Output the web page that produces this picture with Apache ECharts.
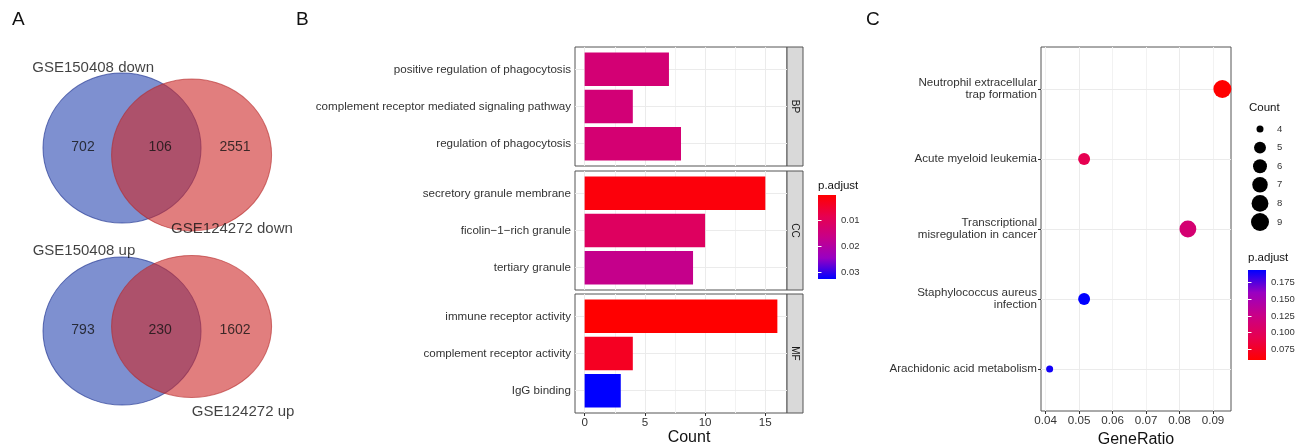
<!DOCTYPE html>
<html>
<head>
<meta charset="utf-8">
<script src="https://cdn.jsdelivr.net/npm/echarts@6/dist/echarts.min.js"></script>
<style>
  html, body { margin: 0; padding: 0; background: #fff; }
  #main { width: 1303px; height: 445px; }
</style>
</head>
<body>
<div id="main"></div>
<script>
// ---------------- data ----------------
// Venn diagrams: [only first set, shared, only second set]
const vennDownSets = ['GSE150408 down', 'GSE124272 down'];
const vennDownCounts = [702, 106, 2551];
const vennUpSets = ['GSE150408 up', 'GSE124272 up'];
const vennUpCounts = [793, 230, 1602];

// GO enrichment, faceted by ontology
const goFacets = ['BP', 'CC', 'MF'];
const goTermsBP = ['positive regulation of phagocytosis', 'complement receptor mediated signaling pathway', 'regulation of phagocytosis'];
const goCountBP = [7, 4, 8];
const goPadjBP = [0.0135, 0.0138, 0.0132];
const goTermsCC = ['secretory granule membrane', 'ficolin\u22121\u2212rich granule', 'tertiary granule'];
const goCountCC = [15, 10, 9];
const goPadjCC = [0.0012, 0.0105, 0.0168];
const goTermsMF = ['immune receptor activity', 'complement receptor activity', 'IgG binding'];
const goCountMF = [16, 4, 3];
const goPadjMF = [0.00003, 0.0035, 0.0326];
const countTicks = [0, 5, 10, 15];
const countMinorTicks = [2.5, 7.5, 12.5];
const goPadjTicks = [0.01, 0.02, 0.03];

// KEGG enrichment
const keggTerms = ['Neutrophil extracellular\ntrap formation', 'Acute myeloid leukemia', 'Transcriptional\nmisregulation in cancer', 'Staphylococcus aureus\ninfection', 'Arachidonic acid metabolism'];
const keggGeneRatio = [0.0928, 0.0515, 0.0825, 0.0515, 0.0412];
const keggCount = [9, 5, 8, 5, 4];
const keggPadj = [0.059, 0.094, 0.113, 0.194, 0.190];
const ratioTicks = [0.04, 0.05, 0.06, 0.07, 0.08, 0.09];
const ratioMinorTicks = [0.045, 0.055, 0.065, 0.075, 0.085];
const sizeLegendCounts = [4, 5, 6, 7, 8, 9];
const keggPadjTicks = [0.075, 0.1, 0.125, 0.15, 0.175];

// ---------------- styling ----------------
const FONT = '"Liberation Sans", Arial, Helvetica, sans-serif';
const TXT = '#333';
const BORDER = '#555';
const GRID_MAJOR = '#ebebeb';
const GRID_MINOR = '#f2f2f2';
const AXIS_FS = 11.6;
const LEG_FS = 9.5;
const RAMP = ['#ff0000', '#e7004f', '#c80088', '#9900c2', '#0000ff']; // low -> high p.adjust
const CIRCLE = 'path://M0,50 A50,50 0 1,1 100,50 A50,50 0 1,1 0,50 Z';

const grids = [], xAxes = [], yAxes = [], series = [], graphics = [];

function addGrid(g, x, ys) {
  grids.push(Object.assign({ outerBoundsMode: 'none', containLabel: false, show: false }, g));
  const gi = grids.length - 1;
  xAxes.push(Object.assign({ gridIndex: gi }, x));
  const xi = xAxes.length - 1;
  const yi = [];
  (Array.isArray(ys) ? ys : [ys]).forEach(y => { yAxes.push(Object.assign({ gridIndex: gi }, y)); yi.push(yAxes.length - 1); });
  return { gi, xi, yi: yi[0], yis: yi };
}
const hiddenUnit = { type: 'value', show: false, min: 0, max: 1, splitLine: { show: false } };

function text(x, y, str, size, opts) {
  graphics.push(Object.assign({
    type: 'text', x, y, silent: true,
    style: Object.assign({ text: str, fontSize: size, fontFamily: FONT, fill: '#111', align: 'left', verticalAlign: 'middle' }, (opts || {}).style || {})
  }, opts && opts.rotation !== undefined ? { rotation: opts.rotation } : {}));
}

function vLines(xi, yi, majors, minors) {
  series.push({
    type: 'line', xAxisIndex: xi, yAxisIndex: yi, data: [], silent: true, z: 1,
    markLine: {
      z: 1, silent: true, symbol: ['none', 'none'], label: { show: false }, animation: false,
      lineStyle: { color: GRID_MAJOR, width: 1, type: 'solid' },
      data: majors.map(v => ({ xAxis: v })).concat(minors.map(v => ({ xAxis: v, lineStyle: { color: GRID_MINOR, width: 1, type: 'solid' } })))
    }
  });
}
function hLines(xi, yi, n) {
  const d = [];
  for (let j = 0; j < n; j++) d.push({ yAxis: j });
  series.push({
    type: 'line', xAxisIndex: xi, yAxisIndex: yi, data: [], silent: true, z: 1,
    markLine: { z: 1, silent: true, symbol: ['none', 'none'], label: { show: false }, animation: false,
      lineStyle: { color: GRID_MAJOR, width: 1, type: 'solid' }, data: d }
  });
}

// ---------------- panel A: Venn diagrams ----------------
function venn(top, sets, counts, lay) {
  const g = addGrid({ left: 40, top, width: 235, height: 165 }, hiddenUnit, Object.assign({}, hiddenUnit, { inverse: true }));
  series.push({ type: 'scatter', xAxisIndex: g.xi, yAxisIndex: g.yi, silent: true, z: 2, clip: false,
    symbol: CIRCLE, symbolSize: lay.blueSize, data: [lay.blue],
    itemStyle: { color: 'rgba(40,70,177,0.6)', opacity: 1, borderColor: 'rgba(40,60,150,0.7)', borderWidth: 1 } });
  series.push({ type: 'scatter', xAxisIndex: g.xi, yAxisIndex: g.yi, silent: true, z: 3, clip: false,
    symbol: CIRCLE, symbolSize: lay.redSize, data: [lay.red],
    itemStyle: { color: 'rgba(205,40,40,0.6)', opacity: 1, borderColor: 'rgba(180,40,40,0.6)', borderWidth: 1 } });
  const countPos = [[0.183, 0.467], [0.511, 0.467], [0.830, 0.467]];
  series.push({ type: 'scatter', xAxisIndex: g.xi, yAxisIndex: g.yi, silent: true, z: 5, clip: false,
    symbolSize: 1, itemStyle: { color: 'transparent' },
    data: counts.map((c, i) => ({ name: String(c), value: countPos[i] })),
    label: { show: true, position: 'inside', formatter: '{b}', color: '#111', fontSize: 14, fontFamily: FONT } });
  series.push({ type: 'scatter', xAxisIndex: g.xi, yAxisIndex: g.yi, silent: true, z: 5, clip: false,
    symbolSize: 1, itemStyle: { color: 'transparent' },
    data: sets.map((s, i) => ({ name: s, value: lay.names[i] })),
    label: { show: true, position: 'inside', formatter: '{b}', color: '#111', fontSize: 15, fontFamily: FONT } });
}
venn(70, vennDownSets, vennDownCounts, {
  blue: [0.349, 0.473], blueSize: [158, 150],
  red: [0.645, 0.515], redSize: [160, 152],
  names: [[0.226, -0.012], [0.817, 0.964]]
});
venn(253, vennUpSets, vennUpCounts, {
  blue: [0.349, 0.473], blueSize: [158, 148],
  red: [0.645, 0.445], redSize: [160, 142],
  names: [[0.187, -0.012], [0.864, 0.961]]
});

// ---------------- panel B: GO bar chart ----------------
const goTerms = [goTermsBP, goTermsCC, goTermsMF];
const goCount = [goCountBP, goCountCC, goCountMF];
const goPadj = [goPadjBP, goPadjCC, goPadjMF];
const allCounts = [].concat(goCountBP, goCountCC, goCountMF);
const allGoPadj = [].concat(goPadjBP, goPadjCC, goPadjMF);
const cPad = Math.max(...allCounts) * 0.05;
const countMin = 0 - cPad, countMax = Math.max(...allCounts) + cPad;

const B_LEFT = 575, B_WIDTH = 212, B_H = 119, STRIP_W = 16;
const facetTop = [47, 171, 294];
const barSeriesIdx = [];
goFacets.forEach((f, i) => {
  const n = goTerms[i].length;
  const unit = B_H / (n - 1 + 1.2);     // discrete expansion of 0.6 on each side
  const inset = unit * 0.1;
  const isBottom = i === goFacets.length - 1;
  const outer = addGrid(
    { left: B_LEFT, top: facetTop[i], width: B_WIDTH, height: B_H, show: true, borderColor: BORDER, borderWidth: 1, backgroundColor: '#fff' },
    {
      type: 'value', min: countMin, max: countMax, show: isBottom,
      axisLine: { show: false }, splitLine: { show: false },
      axisTick: { show: true, length: 3, customValues: countTicks, lineStyle: { color: TXT } },
      axisLabel: { customValues: countTicks, fontSize: AXIS_FS, color: TXT, margin: 4, fontFamily: FONT }
    },
    hiddenUnit
  );
  vLines(outer.xi, outer.yi, countTicks, countMinorTicks);
  const inner = addGrid(
    { left: B_LEFT, top: facetTop[i] + inset, width: B_WIDTH, height: B_H - 2 * inset },
    { type: 'value', min: countMin, max: countMax, show: false, splitLine: { show: false } },
    {
      type: 'category', data: goTerms[i], inverse: true,
      axisLine: { show: false }, splitLine: { show: false },
      axisTick: { show: true, length: 3, alignWithLabel: true, lineStyle: { color: TXT } },
      axisLabel: { fontSize: AXIS_FS, color: TXT, margin: 4, interval: 0, fontFamily: FONT }
    }
  );
  hLines(inner.xi, inner.yi, n);
  series.push({
    type: 'bar', xAxisIndex: inner.xi, yAxisIndex: inner.yi, z: 3, barWidth: '90%',
    encode: { x: 0, y: 1 }, itemStyle: { opacity: 1 },
    data: goTerms[i].map((t, j) => [goCount[i][j], t, goPadj[i][j]])
  });
  barSeriesIdx.push(series.length - 1);
  // facet strip
  graphics.push({ type: 'rect', silent: true, shape: { x: B_LEFT + B_WIDTH, y: facetTop[i], width: STRIP_W, height: B_H },
    style: { fill: '#d9d9d9', stroke: BORDER, lineWidth: 1 } });
  text(B_LEFT + B_WIDTH + STRIP_W / 2, facetTop[i] + B_H / 2, f, 10,
    { rotation: -Math.PI / 2, style: { align: 'center', fill: '#1a1a1a' } });
});
text(B_LEFT + (B_WIDTH + STRIP_W) / 2, 438, 'Count', 16, { style: { align: 'center' } });

// colour bar for GO p.adjust
const gpMin = Math.min(...allGoPadj), gpMax = Math.max(...allGoPadj);
const barTickAxis = (pos, labels, ticks, min, max, inverse, fmt) => ({
  type: 'value', min, max, inverse, position: pos,
  axisLine: { show: false }, splitLine: { show: false },
  axisTick: { show: true, inside: true, length: 3.5, customValues: ticks, lineStyle: { color: '#fff', width: 1 } },
  axisLabel: { show: labels, customValues: ticks, fontSize: LEG_FS, color: TXT, margin: 5, fontFamily: FONT, formatter: fmt }
});
addGrid(
  { left: 818, top: 195, width: 18, height: 84, show: true, borderWidth: 0,
    backgroundColor: { type: 'linear', x: 0, y: 0, x2: 0, y2: 1, colorStops: RAMP.map((c, k) => ({ offset: k / (RAMP.length - 1), color: c })) } },
  hiddenUnit,
  [barTickAxis('right', true, goPadjTicks, gpMin, gpMax, true, v => v.toFixed(2)),
   barTickAxis('left', false, goPadjTicks, gpMin, gpMax, true, v => v.toFixed(2))]
);
text(818, 186, 'p.adjust', 11.5);

// ---------------- panel C: KEGG dot plot ----------------
const rLo = Math.min(...keggGeneRatio), rHi = Math.max(...keggGeneRatio);
const rPad = (rHi - rLo) * 0.05;
const C_LEFT = 1041, C_TOP = 47, C_W = 190, C_H = 364;
const cUnit = C_H / (keggTerms.length - 1 + 1.2);
const cMin = Math.min(...keggCount), cMax = Math.max(...keggCount);
const dotSize = c => 7 + 11 * Math.sqrt((c - cMin) / (cMax - cMin));

const cOuter = addGrid(
  { left: C_LEFT, top: C_TOP, width: C_W, height: C_H, show: true, borderColor: BORDER, borderWidth: 1, backgroundColor: '#fff' },
  {
    type: 'value', min: rLo - rPad, max: rHi + rPad,
    axisLine: { show: false }, splitLine: { show: false },
    axisTick: { show: true, length: 3, customValues: ratioTicks, lineStyle: { color: TXT } },
    axisLabel: { customValues: ratioTicks, fontSize: AXIS_FS, color: TXT, margin: 4, fontFamily: FONT, formatter: v => v.toFixed(2) },
    name: 'GeneRatio', nameLocation: 'middle', nameGap: 19,
    nameTextStyle: { fontSize: 16, color: '#111', fontFamily: FONT }
  },
  hiddenUnit
);
vLines(cOuter.xi, cOuter.yi, ratioTicks, ratioMinorTicks);
const cInner = addGrid(
  { left: C_LEFT, top: C_TOP + 0.6 * cUnit, width: C_W, height: C_H - 1.2 * cUnit },
  { type: 'value', min: rLo - rPad, max: rHi + rPad, show: false, splitLine: { show: false } },
  {
    type: 'category', data: keggTerms, inverse: true, boundaryGap: false,
    axisLine: { show: false }, splitLine: { show: false },
    axisTick: { show: true, length: 3, lineStyle: { color: TXT } },
    axisLabel: { fontSize: AXIS_FS, lineHeight: 12.5, color: TXT, margin: 4, interval: 0, fontFamily: FONT, align: 'right' }
  }
);
hLines(cInner.xi, cInner.yi, keggTerms.length);
series.push({
  type: 'scatter', xAxisIndex: cInner.xi, yAxisIndex: cInner.yi, z: 3, clip: false,
  encode: { x: 0, y: 1 }, itemStyle: { opacity: 1 },
  symbolSize: v => dotSize(v[2]),
  data: keggTerms.map((t, i) => [keggGeneRatio[i], t, keggCount[i], keggPadj[i]])
});
const dotSeriesIdx = series.length - 1;

// size legend
text(1249, 108, 'Count', 11.5);
const sizeLeg = addGrid(
  { left: 1250, top: 129, width: 20, height: 93 },
  hiddenUnit,
  {
    type: 'category', data: sizeLegendCounts.map(String), inverse: true, boundaryGap: false, position: 'right',
    axisLine: { show: false }, axisTick: { show: false }, splitLine: { show: false },
    axisLabel: { fontSize: LEG_FS, color: TXT, margin: 7, interval: 0, fontFamily: FONT }
  }
);
series.push({
  type: 'scatter', xAxisIndex: sizeLeg.xi, yAxisIndex: sizeLeg.yi, silent: true, z: 3,
  symbolSize: v => dotSize(v[2]), itemStyle: { color: '#000', opacity: 1 },
  data: sizeLegendCounts.map(c => [0.5, String(c), c])
});

// colour bar for KEGG p.adjust
const kpMin = Math.min(...keggPadj), kpMax = Math.max(...keggPadj);
text(1248, 258, 'p.adjust', 11.5);
addGrid(
  { left: 1248, top: 270, width: 18, height: 90, show: true, borderWidth: 0,
    backgroundColor: { type: 'linear', x: 0, y: 1, x2: 0, y2: 0, colorStops: RAMP.map((c, k) => ({ offset: k / (RAMP.length - 1), color: c })) } },
  hiddenUnit,
  [barTickAxis('right', true, keggPadjTicks, kpMin, kpMax, false, v => v.toFixed(3)),
   barTickAxis('left', false, keggPadjTicks, kpMin, kpMax, false, v => v.toFixed(3))]
);

// ---------------- assemble ----------------
const letter = (t, left) => ({ text: t, left, top: 10, padding: 0,
  textStyle: { fontSize: 19, fontWeight: 'normal', color: '#111', fontFamily: FONT } });

const option = {
  animation: false,
  backgroundColor: '#fff',
  textStyle: { fontFamily: FONT },
  title: [letter('A', 12), letter('B', 296), letter('C', 866)],
  grid: grids,
  xAxis: xAxes,
  yAxis: yAxes,
  visualMap: [
    { type: 'continuous', show: false, seriesIndex: barSeriesIdx, dimension: 2, min: gpMin, max: gpMax, inRange: { color: RAMP } },
    { type: 'continuous', show: false, seriesIndex: dotSeriesIdx, dimension: 3, min: kpMin, max: kpMax, inRange: { color: RAMP } }
  ],
  series,
  graphic: graphics
};

const chart = echarts.init(document.getElementById('main'));
chart.setOption(option);
</script>
</body>
</html>
